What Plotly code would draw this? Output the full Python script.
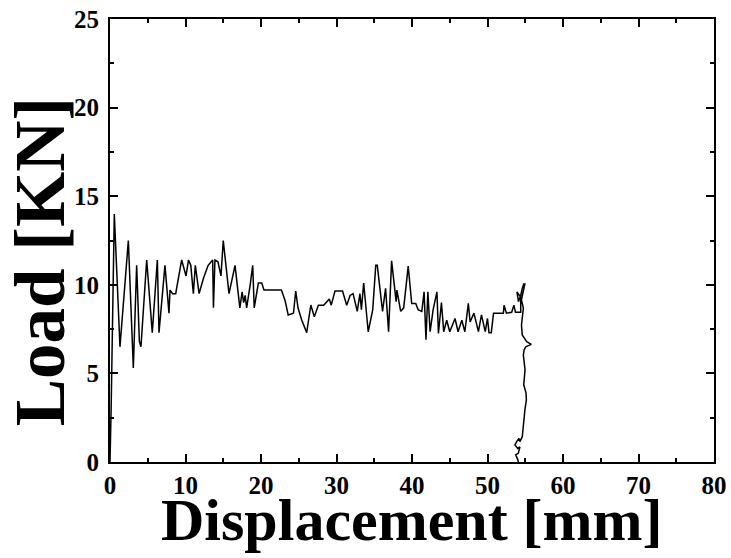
import plotly.graph_objects as go

# Load-displacement record (displacement in mm, load in kN)
displacement = [
    0.0, 0.15, 0.57, 1.32, 2.43, 3.09, 3.53, 3.89, 4.10, 4.86, 5.60, 6.27, 6.49,
    7.28, 7.81, 7.95, 8.30, 8.70, 9.49, 10.07, 10.40, 10.70, 11.04, 11.30, 11.80,
    12.40, 13.00, 13.60, 13.70, 13.90, 14.30, 14.70, 15.00, 15.45, 15.76, 16.56,
    17.20, 17.50, 17.70, 17.90, 18.10, 18.60, 18.90, 19.10, 19.65, 20.10, 20.40,
    22.70, 23.20, 23.60, 24.30, 24.60, 24.90, 25.40, 26.05, 26.60, 27.06, 27.60,
    28.30, 29.05, 29.30, 29.80, 30.80, 31.35, 31.80, 32.20, 32.75, 33.10, 33.30,
    33.60, 34.20, 34.80, 35.20, 35.40, 36.10, 36.50, 36.90, 37.30, 37.90, 38.00,
    38.50, 38.90, 39.50, 39.96, 40.50, 40.80, 41.30, 41.60, 41.85, 42.10, 42.40,
    42.80, 43.30, 43.50, 43.90, 44.20, 44.60, 45.00, 45.70, 46.10, 46.60, 47.00,
    47.46, 47.70, 48.20, 48.80, 49.20, 49.70, 50.00, 50.20, 50.50, 50.80, 52.10,
    52.20, 52.50, 53.20, 53.50, 53.70, 54.40, 54.40, 53.90, 54.10, 54.40, 54.60,
    54.80, 54.95, 54.80, 54.50, 54.75, 54.60, 54.50, 54.60, 55.20, 55.80, 55.06,
    54.85, 54.75, 54.97, 54.80, 55.10, 55.15, 54.95, 54.80, 54.61, 54.30, 54.17,
    53.86, 53.64, 54.00, 54.30, 54.08, 53.73, 54.00, 54.08,
]
load = [
    0.0, 3.0, 14.0, 6.5, 12.5, 5.3, 11.1, 6.8, 6.5, 11.4, 7.3, 11.4, 7.3,
    11.1, 8.4, 9.7, 9.5, 9.5, 11.4, 10.5, 11.4, 11.1, 9.5, 11.1, 9.5,
    10.4, 11.1, 11.4, 8.7, 11.4, 11.3, 10.5, 12.5, 10.8, 9.5, 11.1,
    8.7, 9.6, 9.0, 9.4, 8.7, 10.1, 11.1, 8.7, 10.1, 10.1, 9.7,
    9.7, 9.1, 8.3, 8.4, 9.65, 8.7, 8.0, 7.3, 8.86, 8.2, 8.85,
    8.85, 9.2, 8.85, 9.65, 9.65, 8.85, 9.4, 9.5, 8.5, 9.5, 8.6,
    10.1, 7.35, 8.6, 11.1, 11.1, 8.5, 9.8, 7.35, 11.35, 9.05, 9.7,
    8.5, 8.7, 11.05, 8.95, 8.95, 8.6, 8.5, 9.6, 6.9, 9.6, 7.35,
    8.6, 9.6, 7.25, 9.0, 7.35, 8.0, 7.35, 8.1, 7.35, 8.0, 7.35,
    8.95, 7.9, 8.4, 7.36, 8.3, 7.36, 8.1, 7.3, 7.3, 8.4, 8.4,
    8.85, 8.4, 8.45, 8.85, 8.45, 8.45, 9.3, 9.6, 9.05, 9.4, 9.8,
    10.05, 10.05, 9.7, 9.15, 8.67, 8.1, 7.73, 7.17, 6.79, 6.64, 6.5,
    6.32, 6.04, 5.2, 4.35, 3.9, 3.5, 2.93, 2.37, 1.43, 1.15, 1.33,
    1.15, 0.96, 0.77, 0.86, 0.49, 0.4, 0.15, 0.0,
]

x_ticks = [0, 10, 20, 30, 40, 50, 60, 70, 80]
y_ticks = [0, 5, 10, 15, 20, 25]

x_title = "Displacement [mm]"
y_title = "Load [KN]"

serif = "Liberation Serif, Times New Roman, serif"

fig = go.Figure(
    go.Scatter(
        x=displacement,
        y=load,
        mode="lines",
        line=dict(color="black", width=1.5),
        showlegend=False,
    )
)

axis_common = dict(
    showgrid=False,
    zeroline=False,
    showline=True,
    linecolor="black",
    linewidth=2,
    mirror="ticks",
    ticks="inside",
    ticklen=8,
    tickwidth=1.5,
    tickcolor="black",
    automargin=False,
    tickfont=dict(family=serif, size=25, color="black", weight="bold"),
)

fig.update_xaxes(
    range=[0, 80],
    tickvals=x_ticks,
    minor=dict(dtick=5, ticks="inside", ticklen=4, tickwidth=1.5, tickcolor="black"),
    ticklabelstandoff=0,
    **axis_common,
)
fig.update_yaxes(
    range=[0, 25],
    tickvals=y_ticks,
    minor=dict(dtick=2.5, ticks="inside", ticklen=4, tickwidth=1.5, tickcolor="black"),
    ticklabelstandoff=4,
    **axis_common,
)

# Axis labels placed as annotations for tight control of their position
fig.add_annotation(
    text=x_title,
    xref="paper",
    yref="paper",
    x=0.5,
    y=-0.131,
    xanchor="center",
    yanchor="middle",
    showarrow=False,
    font=dict(family=serif, size=60, color="black", weight="bold"),
)
fig.add_annotation(
    text=y_title,
    xref="paper",
    yref="paper",
    x=-0.116,
    y=0.453,
    xanchor="center",
    yanchor="middle",
    textangle=-90,
    showarrow=False,
    font=dict(family=serif, size=71, color="black", weight="bold"),
)

fig.update_layout(
    width=731,
    height=558,
    margin=dict(l=110, r=17, t=19, b=96),
    paper_bgcolor="white",
    plot_bgcolor="white",
)

fig.write_html("out.html")
